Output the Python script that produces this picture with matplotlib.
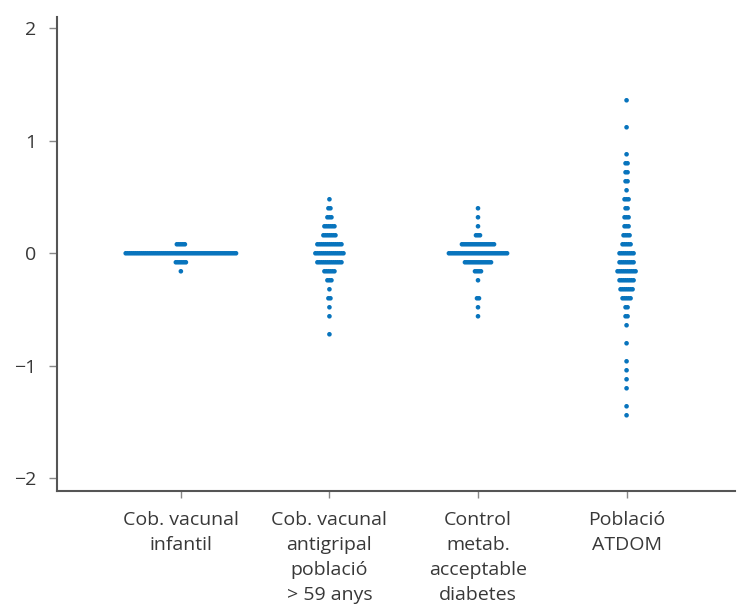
import matplotlib
matplotlib.use("Agg")
import matplotlib.pyplot as plt
import numpy as np

plt.rcParams['font.family'] = ['Open Sans', 'DejaVu Sans']

categories = ["Cob. vacunal\ninfantil",
              "Cob. vacunal\nantigripal\npoblació\n> 59 anys",
              "Control\nmetab.\nacceptable\ndiabetes",
              "Població\nATDOM"]

# y levels (binned values) and number of dots at each level, per group
levels_infantil = [0.08, 0.0, -0.08, -0.16]
counts_infantil = [5, 56, 6, 1]

levels_antigripal = [0.48, 0.40, 0.32, 0.24, 0.16, 0.08, 0.0, -0.08, -0.16,
                     -0.24, -0.32, -0.40, -0.48, -0.56, -0.72]
counts_antigripal = [1, 2, 3, 6, 7, 13, 15, 13, 6, 3, 1, 2, 1, 1, 1]

levels_diabetes = [0.40, 0.32, 0.24, 0.16, 0.08, 0.0, -0.08, -0.16, -0.24,
                   -0.40, -0.48, -0.56]
counts_diabetes = [1, 1, 1, 3, 17, 30, 14, 4, 1, 2, 1, 1]

levels_atdom = [1.36, 1.12, 0.88, 0.80, 0.72, 0.64, 0.56, 0.48, 0.40, 0.32,
                0.24, 0.16, 0.08, 0.0, -0.08, -0.16, -0.24, -0.32, -0.40,
                -0.48, -0.56, -0.64, -0.80, -0.96, -1.04, -1.12, -1.20,
                -1.36, -1.44]
counts_atdom = [1, 1, 1, 2, 2, 2, 1, 3, 2, 3, 3, 4, 5, 8, 8, 10, 8, 7, 5,
                2, 2, 1, 1, 1, 1, 1, 1, 1, 1]

groups = [(levels_infantil, counts_infantil),
          (levels_antigripal, counts_antigripal),
          (levels_diabetes, counts_diabetes),
          (levels_atdom, counts_atdom)]

blue = '#0874bd'
step = 0.0135  # horizontal spacing between neighbouring dots

fig = plt.figure(figsize=(7.37, 6.08), dpi=100)
ax = fig.add_axes([0.0773, 0.193, 0.92, 0.779])

for pos, (levels, counts) in enumerate(groups, start=1):
    xs = []
    ys = []
    for lev, n in zip(levels, counts):
        offs = (np.arange(n) - (n - 1) / 2) * step
        xs.extend(pos + offs)
        ys.extend([lev] * n)
    ax.scatter(xs, ys, s=11, color=blue, edgecolors='none', zorder=3)

ax.set_xlim(0.166, 4.73)
ax.set_ylim(-2.11, 2.10)
ax.set_yticks([-2, -1, 0, 1, 2])
ax.set_xticks([1, 2, 3, 4])
ax.set_xticklabels(categories, linespacing=1.5)

for s in ['top', 'right']:
    ax.spines[s].set_visible(False)
for s in ['left', 'bottom']:
    ax.spines[s].set_color('#555555')
    ax.spines[s].set_linewidth(1.5)

ax.tick_params(axis='y', length=6, width=1, color='#888888', pad=9,
               labelsize=14, labelcolor='#383838')
ax.tick_params(axis='x', length=5, width=1, color='#888888', pad=10,
               labelsize=14, labelcolor='#383838')

fig.savefig('out.png', dpi=100)
